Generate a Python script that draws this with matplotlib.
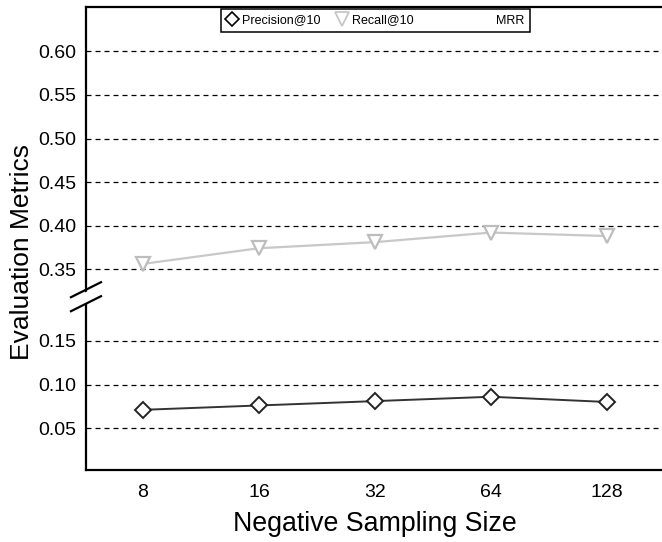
import matplotlib
matplotlib.use("Agg")
import matplotlib.pyplot as plt
from matplotlib.lines import Line2D
from matplotlib.patches import Polygon
from matplotlib.legend_handler import HandlerBase

plt.rcParams['font.family'] = ['Liberation Sans', 'DejaVu Sans']

# negative sampling sizes on the x axis
sizes = ['8', '16', '32', '64', '128']
precision_at_10 = [0.071, 0.076, 0.081, 0.086, 0.080]
recall_at_10 = [0.356, 0.374, 0.381, 0.392, 0.388]

top_ticks = [0.35, 0.40, 0.45, 0.50, 0.55, 0.60]
bottom_ticks = [0.05, 0.10, 0.15]

W, H = 662, 542
fig = plt.figure(figsize=(W / 100, H / 100), dpi=100)

# broken y axis: two stacked axes with the same scale (px per unit)
left, right = 86, 665
top_px, brk_px, bot_px = 7, 297, 470
ax_top = fig.add_axes([left / W, 1 - brk_px / H, (right - left) / W, (brk_px - top_px) / H])
ax_bot = fig.add_axes([left / W, 1 - bot_px / H, (right - left) / W, (bot_px - brk_px) / H])

ax_top.set_ylim(0.318, 0.651)
ax_bot.set_ylim(0.002, 0.2004)

x = list(range(len(sizes)))
grid_style = dict(color='black', lw=0.9, ls=(0, (4, 3.2)), zorder=1)

for ax, ticks in ((ax_top, top_ticks), (ax_bot, bottom_ticks)):
    ax.set_xlim(-0.49, 4.5)
    ax.set_yticks(ticks)
    ax.set_yticklabels([f'{t:.2f}' for t in ticks])
    for t in ticks:
        ax.axhline(t, **grid_style)
    ax.tick_params(axis='y', length=0, pad=7, labelsize=14)
    for s in ax.spines.values():
        s.set_linewidth(1.6)
    ax.spines['right'].set_visible(False)

ax_top.spines['bottom'].set_visible(False)
ax_top.set_xticks([])
ax_bot.spines['top'].set_visible(False)
ax_bot.set_xticks(x)
ax_bot.set_xticklabels(sizes)
ax_bot.tick_params(axis='x', length=0, pad=10, labelsize=14)

ax_top.plot(x, recall_at_10, color='#c8c8c8', lw=1.6, marker='v', ms=10.5,
            mfc='white', mec='#bdbdbd', mew=1.6, zorder=3)
ax_bot.plot(x, precision_at_10, color='#333333', lw=1.4, marker='D', ms=8,
            mfc='white', mec='#222222', mew=1.4, zorder=3)

# break marks across the left spine
def px(xp, yp):
    return (xp / W, 1 - yp / H)

gap = Polygon([px(80, 295), px(92, 289), px(92, 301), px(80, 307)],
              closed=True, transform=fig.transFigure, facecolor='white',
              edgecolor='none', zorder=5)
fig.add_artist(gap)
for dy in (0, 14):
    (x0, y0), (x1, y1) = px(71, 297.2 + dy), px(101, 282.2 + dy)
    fig.add_artist(Line2D([x0, x1], [y0, y1], transform=fig.transFigure,
                          color='black', lw=1.6, zorder=6))


class BlankHandler(HandlerBase):
    # empty, wider handle box for the MRR entry
    def legend_artist(self, legend, orig_handle, fontsize, handlebox):
        handlebox.width = 5.1 * fontsize
        return Line2D([], [], ls='none')


mrr_handle = Line2D([], [], ls='none', marker='none')
handles = [
    Line2D([], [], ls='none', marker='D', ms=7.5, mfc='white', mec='black', mew=1.2),
    Line2D([], [], ls='none', marker='v', ms=10, mfc='white', mec='#c4c4c4', mew=1.2),
    mrr_handle,
]
leg = ax_top.legend(handles, ['Precision@10', 'Recall@10', 'MRR'], loc='upper center',
                    ncol=3, fontsize=9, frameon=True, fancybox=False, framealpha=1,
                    edgecolor='black', handlelength=1.0, handletextpad=0.3,
                    columnspacing=1.2, borderaxespad=0.15, borderpad=0.45,
                    handler_map={mrr_handle: BlankHandler()})
leg.get_frame().set_linewidth(1.1)

fig.text(22 / W, 1 - 252 / H, 'Evaluation Metrics', rotation=90, fontsize=19,
         ha='center', va='center')
fig.text(375 / W, 1 - 524 / H, 'Negative Sampling Size', fontsize=19.3,
         ha='center', va='center')

fig.savefig('out.png', dpi=100)
